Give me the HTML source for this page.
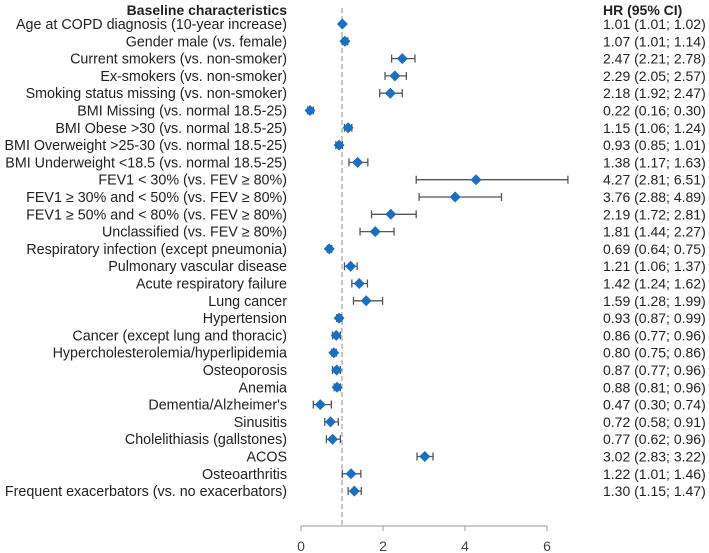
<!DOCTYPE html>
<html><head><meta charset="utf-8"><style>
body{margin:0;background:#fff;}
svg{display:block;font-family:"Liberation Sans",sans-serif;}
</style></head><body>
<svg id="chart" width="709" height="553"></svg>
<script>
const labels=["Age at COPD diagnosis (10-year increase)","Gender male (vs. female)","Current smokers (vs. non-smoker)","Ex-smokers (vs. non-smoker)","Smoking status missing (vs. non-smoker)","BMI Missing (vs. normal 18.5-25)","BMI Obese >30 (vs. normal 18.5-25)","BMI Overweight >25-30 (vs. normal 18.5-25)","BMI Underweight <18.5 (vs. normal 18.5-25)","FEV1 < 30% (vs. FEV \u2265 80%)","FEV1 \u2265 30% and < 50% (vs. FEV \u2265 80%)","FEV1 \u2265 50% and < 80% (vs. FEV \u2265 80%)","Unclassified (vs. FEV \u2265 80%)","Respiratory infection (except pneumonia)","Pulmonary vascular disease","Acute respiratory failure","Lung cancer","Hypertension","Cancer (except lung and thoracic)","Hypercholesterolemia/hyperlipidemia","Osteoporosis","Anemia","Dementia/Alzheimer's","Sinusitis","Cholelithiasis (gallstones)","ACOS","Osteoarthritis","Frequent exacerbators (vs. no exacerbators)"];
const hr=[1.01,1.07,2.47,2.29,2.18,0.22,1.15,0.93,1.38,4.27,3.76,2.19,1.81,0.69,1.21,1.42,1.59,0.93,0.86,0.80,0.87,0.88,0.47,0.72,0.77,3.02,1.22,1.30];
const lo=[1.01,1.01,2.21,2.05,1.92,0.16,1.06,0.85,1.17,2.81,2.88,1.72,1.44,0.64,1.06,1.24,1.28,0.87,0.77,0.75,0.77,0.81,0.30,0.58,0.62,2.83,1.01,1.15];
const hi=[1.02,1.14,2.78,2.57,2.47,0.30,1.24,1.01,1.63,6.51,4.89,2.81,2.27,0.75,1.37,1.62,1.99,0.99,0.96,0.86,0.96,0.96,0.74,0.91,0.96,3.22,1.46,1.47];
const ticks=[0,2,4,6];
const svg=document.getElementById('chart');
const NS='http://www.w3.org/2000/svg';
const x=v=>301+v*41;
const y=i=>24+i*17.3;
function mk(t,a,p){const e=document.createElementNS(NS,t);for(const k in a)e.setAttribute(k,a[k]);(p||svg).appendChild(e);return e;}
let h=mk('text',{x:287,y:15,'text-anchor':'end','font-size':14,'font-weight':'bold',fill:'#222'});h.textContent='Baseline characteristics';


h=mk('text',{x:603,y:15,'font-size':14,'font-weight':'bold',fill:'#222'});h.textContent='HR (95% CI)';


let d=mk('line',{x1:x(1),x2:x(1),y1:8,y2:526,stroke:'#aaa','stroke-dasharray':'5,3','stroke-width':1.3});


let ax=mk('line',{x1:x(0),x2:x(6),y1:526,y2:526,stroke:'#999'});


ticks.forEach(t=>{
 let l=mk('line',{x1:x(t),x2:x(t),y1:526,y2:531,stroke:'#999'});
 
 
 let tx=mk('text',{x:x(t),y:551,'text-anchor':'middle','font-size':14,fill:'#444'});tx.textContent=t;
 
 
});
const f=v=>v.toFixed(2);
labels.forEach((lab,i)=>{
 const yy=y(i);
 let t=mk('text',{x:287,y:yy+5,'text-anchor':'end','font-size':14.3,fill:'#222'});t.textContent=lab;
 
 
 let v=mk('text',{x:603,y:yy+5,'font-size':14,fill:'#222'});v.textContent=f(hr[i])+' ('+f(lo[i])+'; '+f(hi[i])+')';
 
 
 const g=mk('g',{stroke:'#555','stroke-width':1.3});
 
 
 mk('line',{x1:x(lo[i]),x2:x(hi[i]),y1:yy,y2:yy},g);
 mk('line',{x1:x(lo[i]),x2:x(lo[i]),y1:yy-4,y2:yy+4},g);
 mk('line',{x1:x(hi[i]),x2:x(hi[i]),y1:yy-4,y2:yy+4},g);
 const cx=x(hr[i]),r=5.5;
 let p=mk('polygon',{points:`${cx},${yy-r} ${cx+r},${yy} ${cx},${yy+r} ${cx-r},${yy}`,fill:'#1a6fc4'});
 
 
});
</script>
</body></html>
